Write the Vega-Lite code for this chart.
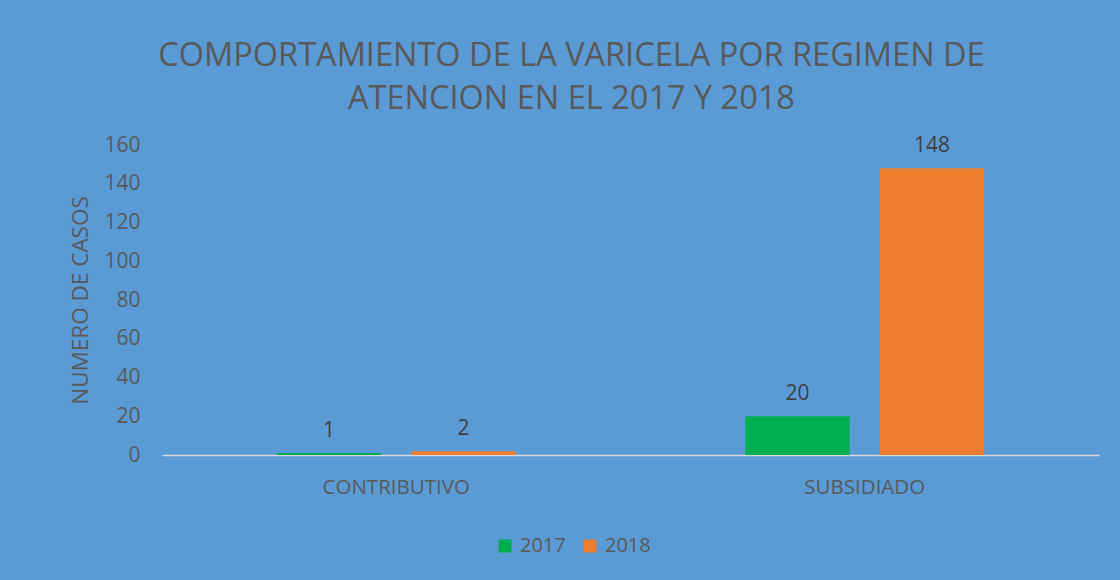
{
  "$schema": "https://vega.github.io/schema/vega-lite/v6.json",
  "width": 937,
  "height": 310,
  "autosize": {"type": "none"},
  "padding": {"left": 162, "top": 145, "right": 21, "bottom": 125},
  "background": "#5B9BD5",
  "config": {
    "view": {"stroke": null},
    "font": "Open Sans",
    "text": {"font": "Open Sans"}
  },
  "title": {
    "text": ["COMPORTAMIENTO DE LA VARICELA POR REGIMEN DE", "ATENCION EN EL 2017 Y 2018"],
    "font": "Open Sans",
    "fontSize": 32.5,
    "fontWeight": "normal",
    "color": "#595959",
    "anchor": "middle",
    "dx": -59,
    "offset": 19,
    "lineHeight": 43
  },
  "data": {
    "values": [
      {"regimen": "CONTRIBUTIVO", "year": "2017", "casos": 1},
      {"regimen": "CONTRIBUTIVO", "year": "2018", "casos": 2},
      {"regimen": "SUBSIDIADO", "year": "2017", "casos": 20},
      {"regimen": "SUBSIDIADO", "year": "2018", "casos": 148}
    ]
  },
  "encoding": {
    "x": {
      "field": "regimen",
      "type": "nominal",
      "sort": ["CONTRIBUTIVO", "SUBSIDIADO"],
      "scale": {"paddingInner": 0.49, "paddingOuter": 0.245},
      "axis": {
        "title": null,
        "labelAngle": 0,
        "labelFont": "Open Sans",
        "labelFontSize": 20.5,
        "labelColor": "#595959",
        "labelPadding": 22,
        "ticks": false,
        "domainColor": "#D9D9D9",
        "domainWidth": 1.5
      }
    },
    "xOffset": {
      "field": "year",
      "type": "nominal",
      "scale": {"paddingInner": 0.226, "paddingOuter": 0}
    },
    "y": {
      "field": "casos",
      "type": "quantitative",
      "scale": {"domain": [0, 160], "nice": false},
      "axis": {
        "values": [0, 20, 40, 60, 80, 100, 120, 140, 160],
        "title": "NUMERO DE CASOS",
        "titleFont": "Open Sans",
        "titleFontSize": 22.5,
        "titleFontWeight": "normal",
        "titleColor": "#595959",
        "titlePadding": 11,
        "labelFont": "Open Sans",
        "labelFontSize": 21,
        "labelColor": "#595959",
        "labelPadding": 22,
        "ticks": false,
        "domain": false,
        "grid": false
      }
    }
  },
  "layer": [
    {
      "mark": {"type": "bar"},
      "encoding": {
        "color": {
          "field": "year",
          "type": "nominal",
          "scale": {"domain": ["2017", "2018"], "range": ["#00B050", "#ED7D31"]},
          "legend": {
            "title": null,
            "orient": "none",
            "legendX": 333,
            "legendY": 391,
            "direction": "horizontal",
            "symbolType": "square",
            "symbolSize": 170,
            "symbolStrokeWidth": 0,
            "symbolOpacity": 1,
            "labelFont": "Open Sans",
            "labelFontSize": 20,
            "labelColor": "#595959",
            "labelOffset": 5,
            "columnPadding": 14
          }
        }
      }
    },
    {
      "mark": {"type": "text", "baseline": "alphabetic", "dy": -16, "fontSize": 21, "color": "#404040", "font": "Open Sans"},
      "encoding": {"text": {"field": "casos", "type": "quantitative"}}
    }
  ]
}
